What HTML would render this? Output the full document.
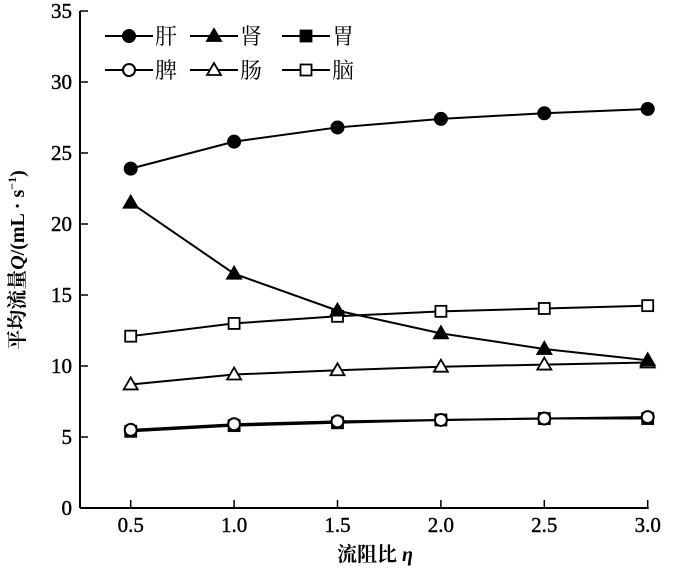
<!DOCTYPE html>
<html><head><meta charset="utf-8"><style>
body{margin:0;background:#fff}
svg{font-family:"Liberation Serif","Noto Serif CJK SC",serif}
</style></head><body>
<svg id="c" width="700" height="576"></svg>
<script>
const xCats=[0.5,1.0,1.5,2.0,2.5,3.0];
const xTickLabels=["0.5","1.0","1.5","2.0","2.5","3.0"];
const yTicks=[0,5,10,15,20,25,30,35];
const liver=[23.9,25.8,26.8,27.4,27.8,28.1];
const kidney=[21.5,16.5,13.9,12.3,11.2,10.4];
const stomach=[5.4,5.8,6.0,6.2,6.3,6.3];
const spleen=[5.5,5.9,6.1,6.2,6.3,6.4];
const intestine=[8.7,9.4,9.7,9.95,10.1,10.25];
const brain=[12.1,13.0,13.5,13.85,14.05,14.25];
const NS="http://www.w3.org/2000/svg";
const svg=document.getElementById('c');
const X=v=>79+(v-0.25)*206.8;
const Y=v=>508-v*14.2;
function mk(t,a,p){const e=document.createElementNS(NS,t);for(const k in a)e.setAttribute(k,a[k]);(p||svg).appendChild(e);return e;}
const axis=mk('g',{});


mk('line',{x1:80,y1:Y(35),x2:80,y2:508,stroke:'#000','stroke-width':2},axis);
mk('line',{x1:80,y1:508,x2:X(3.0)+1,y2:508,stroke:'#000','stroke-width':2},axis);
yTicks.forEach(t=>{mk('line',{x1:80,y1:Y(t),x2:88,y2:Y(t),stroke:'#000','stroke-width':1.5},axis);
 const tx=mk('text',{x:72,y:Y(t)+7,'text-anchor':'end','font-size':21,stroke:'#000','stroke-width':0.4},axis);tx.textContent=t;
 
 });
xCats.forEach((c,i)=>{mk('line',{x1:X(c),y1:508,x2:X(c),y2:500,stroke:'#000','stroke-width':1.5},axis);
 const tx=mk('text',{x:X(c),y:532,'text-anchor':'middle','font-size':21,stroke:'#000','stroke-width':0.4},axis);tx.textContent=xTickLabels[i];
 
 });
const xt=mk('text',{x:375,y:561,'text-anchor':'middle','font-size':20,'font-weight':'bold'});
xt.innerHTML='流阻比 <tspan font-style="italic" font-weight="bold">η</tspan>';


const yt=mk('text',{x:0,y:0,'text-anchor':'middle','font-size':20,'font-weight':'bold',transform:'translate(24,260) rotate(-90)'});
yt.innerHTML='平均流量<tspan font-style="italic">Q</tspan>/(mL · s<tspan font-size="12" dy="-8">−1</tspan><tspan dy="8">)</tspan>';


function marker(g,type,x,y){
 const fill=type.endsWith('f')?'#000':'#fff';
 if(type[0]=='c')mk('circle',{cx:x,cy:y,r:6,fill,stroke:'#000','stroke-width':2},g);
 else if(type[0]=='t')mk('polygon',{points:`${x},${y-7} ${x-7},${y+5} ${x+7},${y+5}`,fill,stroke:'#000','stroke-width':1.8},g);
 else mk('rect',{x:x-5.5,y:y-5.5,width:11,height:11,fill,stroke:'#000','stroke-width':1.8},g);
}
const series=[['stomach',stomach,'sf'],['spleen',spleen,'co'],['intestine',intestine,'to'],['brain',brain,'so'],['kidney',kidney,'tf'],['liver',liver,'cf']];
series.forEach(([n,d,m])=>{
 const g=mk('g',{});
 
 
 mk('polyline',{points:d.map((v,i)=>X(xCats[i])+','+Y(v)).join(' '),fill:'none',stroke:'#000','stroke-width':2},g);
 d.forEach((v,i)=>marker(g,m,X(xCats[i]),Y(v)));
});
const leg=[['肝','cf',105,36],['肾','tf',190,36],['胃','sf',282,36],['脾','co',105,70],['肠','to',190,70],['脑','so',282,70]];
leg.forEach(([t,m,x,y])=>{
 const g=mk('g',{});
 
 
 mk('line',{x1:x,y1:y,x2:x+48,y2:y,stroke:'#000','stroke-width':2},g);
 marker(g,m,x+24,y);
 const tx=mk('text',{x:x+50,y:y+8,'font-size':22},g);tx.textContent=t;
});
</script>
</body></html>
